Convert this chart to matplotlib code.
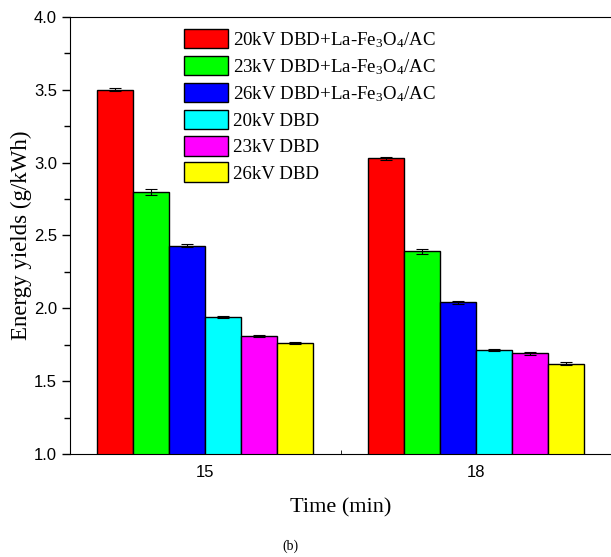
import numpy as np
import matplotlib.pyplot as plt
from matplotlib.ticker import MultipleLocator, FixedLocator

plt.rcParams['mathtext.fontset'] = 'custom'
plt.rcParams['mathtext.rm'] = 'Liberation Serif'
plt.rcParams['mathtext.it'] = 'Liberation Serif:italic'

# data
times = ['15', '18']
labels = ['20kV DBD+La-Fe$_3$O$_4$/AC', '23kV DBD+La-Fe$_3$O$_4$/AC',
          '26kV DBD+La-Fe$_3$O$_4$/AC', '20kV DBD', '23kV DBD', '26kV DBD']
colors = ['#ff0000', '#00ff00', '#0000ff', '#00ffff', '#ff00ff', '#ffff00']
yields_15 = [3.50, 2.80, 2.43, 1.94, 1.81, 1.76]
yields_18 = [3.03, 2.39, 2.04, 1.715, 1.69, 1.62]
err_15 = [0.01, 0.02, 0.01, 0.01, 0.01, 0.008]
err_18 = [0.01, 0.02, 0.012, 0.005, 0.01, 0.012]

fig = plt.figure(figsize=(6.11, 5.57), dpi=100)
ax = fig.add_axes([0.1146, 0.185, 0.8854, 0.7845])

x = np.arange(len(times))
w = 0.133
for i in range(6):
    vals = [yields_15[i], yields_18[i]]
    errs = [err_15[i], err_18[i]]
    ax.bar(x + (i - 2.5) * w, vals, w, color=colors[i], edgecolor='black',
           linewidth=1, label=labels[i], yerr=errs,
           error_kw=dict(ecolor='black', elinewidth=0.8, capsize=4, capthick=0.8))

ax.set_xlim(-0.5, 1.5)
ax.set_ylim(1.0, 4.0)
ax.set_xticks(x)
ax.set_xticklabels(times, family='Liberation Sans', fontsize=12)
ax.xaxis.set_minor_locator(FixedLocator([0.5]))
ax.tick_params(axis='x', which='major', length=0, pad=8)
ax.tick_params(axis='x', which='minor', direction='in', length=3)
ax.yaxis.set_major_locator(MultipleLocator(0.5))
ax.yaxis.set_minor_locator(MultipleLocator(0.25))
ax.tick_params(axis='y', which='major', length=6, width=1, direction='out')
ax.tick_params(axis='y', which='minor', length=4, width=1, direction='out')
for t in ax.get_yticklabels():
    t.set_family('Liberation Sans')
    t.set_fontsize(12)
ax.spines['right'].set_visible(False)

ax.set_ylabel('Energy yields (g/kWh)', family='Liberation Serif', fontsize=16.5, labelpad=1)
ax.set_xlabel('Time (min)', family='Liberation Serif', fontsize=16, labelpad=13)

ax.legend(loc='upper left', bbox_to_anchor=(0.197, 0.99), frameon=False,
          prop={'family': 'Liberation Serif', 'size': 13.6},
          handlelength=2.3, handleheight=1.2, labelspacing=0.33,
          handletextpad=0.3, borderaxespad=0)

fig.text(0.475, 0.012, '(b)', family='Liberation Serif', fontsize=10, ha='center')

fig.savefig('out.png', dpi=100)
